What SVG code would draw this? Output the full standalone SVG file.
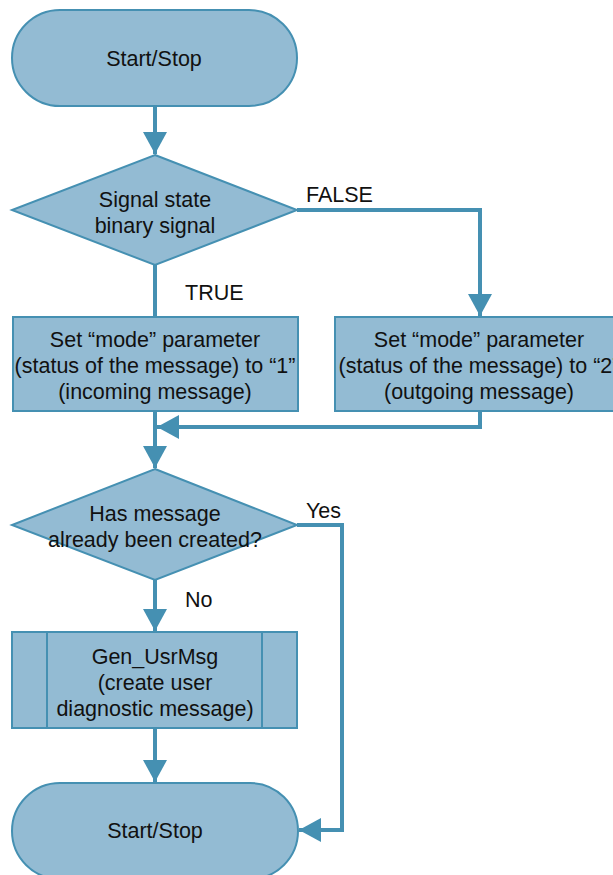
<svg xmlns="http://www.w3.org/2000/svg" width="613" height="875" viewBox="0 0 613 875">
<defs>
<style>
.n{fill:#93bbd3;stroke:#4590b2;stroke-width:2}
.c{fill:none;stroke:#4590b2;stroke-width:4}
.t{font-family:"Liberation Sans",Arial,sans-serif;font-size:21.5px;fill:#111;text-anchor:middle}
.l{font-family:"Liberation Sans",Arial,sans-serif;font-size:21.5px;fill:#111}
</style>
<marker id="a" markerUnits="userSpaceOnUse" markerWidth="24" markerHeight="24" viewBox="0 0 24 24" refX="22" refY="12" orient="auto">
<path d="M0,0 L22,12 L0,24 z" fill="#4590b2"/>
</marker>
</defs>
<g id="connectors">
<path class="c" d="M155,106 V154" marker-end="url(#a)"/>
<path class="c" d="M297,210 H480 V316" marker-end="url(#a)"/>
<path class="c" d="M155,265 V318"/>
<path class="c" d="M155,411 V468" marker-end="url(#a)"/>
<path class="c" d="M480,411 V427 H157" marker-end="url(#a)"/>
<path class="c" d="M297,525 H342 V830 H299" marker-end="url(#a)"/>
<path class="c" d="M155,580 V631" marker-end="url(#a)"/>
<path class="c" d="M155,728 V782" marker-end="url(#a)"/>
<text class="l" x="306" y="202">FALSE</text>
<text class="l" x="185" y="300">TRUE</text>
<text class="l" x="306" y="518">Yes</text>
<text class="l" x="185" y="607">No</text>
</g>
<g id="start">
<rect class="n" x="12" y="10" width="285" height="96" rx="48" ry="48"/>
<text class="t" x="154" y="66">Start/Stop</text>
</g>
<g id="decision1">
<polygon class="n" points="155,155 297,210 155,265 12,210"/>
<text class="t" x="155" y="207">Signal state</text>
<text class="t" x="155" y="233">binary signal</text>
</g>
<g id="set1">
<rect class="n" x="13" y="317" width="285" height="94"/>
<text class="t" x="155" y="347">Set “mode” parameter</text>
<text class="t" x="155" y="373">(status of the message) to “1”</text>
<text class="t" x="155" y="399">(incoming message)</text>
</g>
<g id="set2">
<rect class="n" x="335" y="317" width="285" height="94"/>
<text class="t" x="479" y="347">Set “mode” parameter</text>
<text class="t" x="479" y="373">(status of the message) to “2”</text>
<text class="t" x="479" y="399">(outgoing message)</text>
</g>
<g id="decision2">
<polygon class="n" points="155,469 297,525 155,580 12,525"/>
<text class="t" x="155" y="521">Has message</text>
<text class="t" x="155" y="547">already been created?</text>
</g>
<g id="genusrmsg">
<rect class="n" x="12" y="632" width="285" height="96"/>
<line class="n" x1="47" y1="632" x2="47" y2="728"/>
<line class="n" x1="262" y1="632" x2="262" y2="728"/>
<text class="t" x="155" y="664">Gen_UsrMsg</text>
<text class="t" x="155" y="690">(create user</text>
<text class="t" x="155" y="716">diagnostic message)</text>
</g>
<g id="stop">
<rect class="n" x="12" y="783" width="286" height="96" rx="48" ry="48"/>
<text class="t" x="155" y="838">Start/Stop</text>
</g>
</svg>
